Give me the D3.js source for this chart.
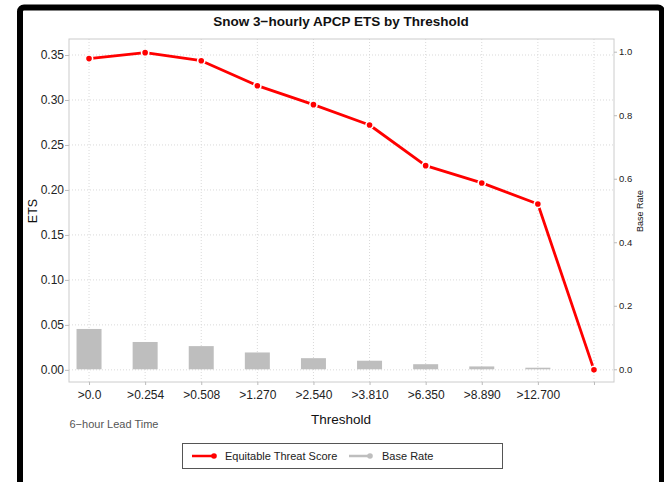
<!DOCTYPE html>
<html>
<head>
<meta charset="utf-8">
<script src="https://cdn.jsdelivr.net/npm/d3@7"></script>
<style>
  html, body { margin: 0; padding: 0; background: #fff; }
  svg { display: block; font-family: "Liberation Sans", Arial, Helvetica, sans-serif; }
</style>
</head>
<body>
<svg id="chart" width="664" height="482"></svg>
<script>
// ---- data ----
const categories = ["c1","c2","c3","c4","c5","c6","c7","c8","c9","c10"];
const tickLabels = [">0.0", ">0.254", ">0.508", ">1.270", ">2.540", ">3.810", ">6.350", ">8.890", ">12.700", ""];
const etsValues = [0.346, 0.3526, 0.3437, 0.3159, 0.2948, 0.2722, 0.2270, 0.2078, 0.1844, 0.0];
const baseRateValues = [0.127, 0.086, 0.073, 0.053, 0.035, 0.027, 0.016, 0.009, 0.005, 0.0];
const leftTicks = [0.00, 0.05, 0.10, 0.15, 0.20, 0.25, 0.30, 0.35];
const rightTicks = [0.0, 0.2, 0.4, 0.6, 0.8, 1.0];

const svg = d3.select("#chart");

// frame
svg.append("rect").attr("x", 20).attr("y", 7.5).attr("width", 642).attr("height", 500)
  .attr("rx", 4).attr("fill", "#fff").attr("stroke", "#000").attr("stroke-width", 6);

const P = { left: 69, right: 614, top: 39, bottom: 382 };

const x = d3.scalePoint().domain(categories).range([P.left, P.right]).padding(0.357);
const y = d3.scaleLinear().domain([-0.0135, 0.3678]).range([P.bottom, P.top]);
const y2 = d3.scaleLinear().domain([-0.04, 1.04]).range([P.bottom, P.top]);

// grid
const grid = svg.append("g");
grid.selectAll("line.h").data(leftTicks).join("line")
  .attr("x1", P.left).attr("x2", P.right)
  .attr("y1", d => y(d)).attr("y2", d => y(d))
  .attr("stroke", "#d9d9d9").attr("stroke-width", 1).attr("stroke-dasharray", "1,2");
grid.selectAll("line.v").data(categories).join("line")
  .attr("x1", d => x(d)).attr("x2", d => x(d))
  .attr("y1", P.top).attr("y2", P.bottom)
  .attr("stroke", "#d9d9d9").attr("stroke-width", 1).attr("stroke-dasharray", "1,2");

// bars
const barW = 25;
svg.append("g").selectAll("rect").data(categories).join("rect")
  .attr("x", d => x(d) - barW / 2)
  .attr("width", barW)
  .attr("y", (d, i) => y2(baseRateValues[i]))
  .attr("height", (d, i) => y2(0) - y2(baseRateValues[i]))
  .attr("fill", "#bebebe");

// ETS line
const line = d3.line().x((d, i) => x(categories[i])).y(d => y(d));
svg.append("path").datum(etsValues).attr("d", line)
  .attr("fill", "none").attr("stroke", "#ff0000").attr("stroke-width", 2.8)
  .attr("stroke-linejoin", "round");
svg.append("g").selectAll("circle").data(etsValues).join("circle")
  .attr("cx", (d, i) => x(categories[i])).attr("cy", d => y(d))
  .attr("r", 3.6).attr("fill", "#ff0000").attr("stroke", "#fff").attr("stroke-width", 1.6);

// panel border
svg.append("rect").attr("x", P.left).attr("y", P.top)
  .attr("width", P.right - P.left).attr("height", P.bottom - P.top)
  .attr("fill", "none").attr("stroke", "#cccccc").attr("stroke-width", 1);

// axes
const leftAxis = d3.axisLeft(y).tickValues(leftTicks).tickFormat(d3.format(".2f")).tickSize(4).tickPadding(1);
const gL = svg.append("g").attr("transform", `translate(${P.left},0)`).call(leftAxis);
gL.select(".domain").remove();
gL.selectAll(".tick line").attr("stroke", "#bbb");
gL.selectAll("text").attr("font-size", 12).attr("fill", "#222").attr("font-family", "Liberation Sans, Arial, sans-serif");

const rightAxis = d3.axisRight(y2).tickValues(rightTicks).tickFormat(d3.format(".1f")).tickSize(3).tickPadding(2);
const gR = svg.append("g").attr("transform", `translate(${P.right},0)`).call(rightAxis);
gR.select(".domain").remove();
gR.selectAll(".tick line").attr("stroke", "#bbb");
gR.selectAll("text").attr("font-size", 9.5).attr("fill", "#222").attr("font-family", "Liberation Sans, Arial, sans-serif");

const bottomAxis = d3.axisBottom(x).tickFormat((d, i) => tickLabels[i]).tickSize(3).tickPadding(5);
const gB = svg.append("g").attr("transform", `translate(0,${P.bottom})`).call(bottomAxis);
gB.select(".domain").remove();
gB.selectAll(".tick line").attr("stroke", "#bbb");
gB.selectAll("text").attr("font-size", 12).attr("fill", "#222").attr("font-family", "Liberation Sans, Arial, sans-serif");

// titles
svg.append("text").attr("x", 341).attr("y", 26).attr("text-anchor", "middle")
  .attr("font-size", 13.5).attr("font-weight", "bold").attr("fill", "#111")
  .text("Snow 3\u2212hourly APCP ETS by Threshold");
svg.append("text").attr("x", 341).attr("y", 424).attr("text-anchor", "middle")
  .attr("font-size", 13.5).attr("fill", "#111").text("Threshold");
svg.append("text").attr("transform", "translate(37,211) rotate(-90)").attr("text-anchor", "middle")
  .attr("font-size", 12.5).attr("fill", "#111").text("ETS");
svg.append("text").attr("transform", "translate(643,211) rotate(-90)").attr("text-anchor", "middle")
  .attr("font-size", 9).attr("fill", "#111").text("Base Rate");
svg.append("text").attr("x", 69.5).attr("y", 428).attr("font-size", 11).attr("fill", "#555")
  .text("6\u2212hour Lead Time");

// legend
const lg = svg.append("g");
lg.append("rect").attr("x", 182.5).attr("y", 443.5).attr("width", 320).attr("height", 25)
  .attr("fill", "#fff").attr("stroke", "#555").attr("stroke-width", 1);
lg.append("line").attr("x1", 192).attr("x2", 214).attr("y1", 456).attr("y2", 456)
  .attr("stroke", "#ff0000").attr("stroke-width", 2.5);
lg.append("circle").attr("cx", 214).attr("cy", 456).attr("r", 2.8).attr("fill", "#ff0000");
lg.append("text").attr("x", 225).attr("y", 460).attr("font-size", 11).attr("fill", "#222").text("Equitable Threat Score");
lg.append("line").attr("x1", 349).attr("x2", 370).attr("y1", 456).attr("y2", 456)
  .attr("stroke", "#bebebe").attr("stroke-width", 2.5);
lg.append("circle").attr("cx", 370).attr("cy", 456).attr("r", 2.8).attr("fill", "#bebebe");
lg.append("text").attr("x", 382).attr("y", 460).attr("font-size", 11).attr("fill", "#222").text("Base Rate");
</script>
</body>
</html>
